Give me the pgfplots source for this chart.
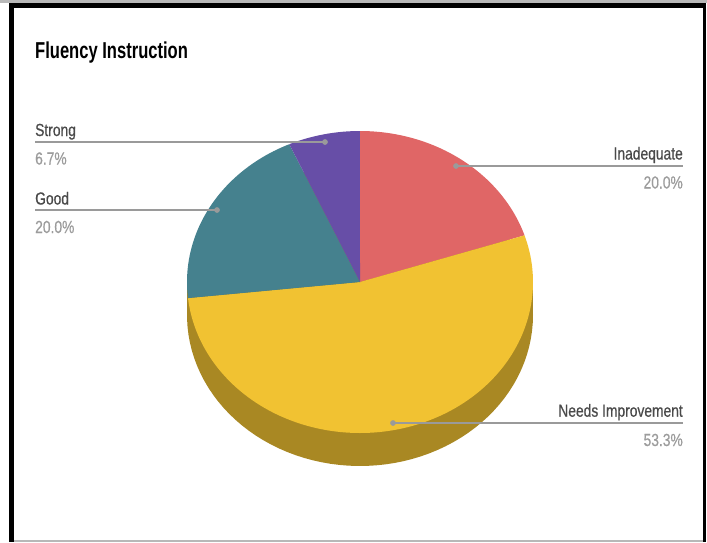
\documentclass[border=0pt]{standalone}
\usepackage{pgfplots}
\pgfplotsset{compat=1.18}
\usepackage{pgfplotstable}
\usepackage{fontspec}
\setmainfont{Liberation Sans}
\newfontfamily\labfont[FakeStretch=0.79,FakeBold=0.5]{Liberation Sans}
\newfontfamily\titlefont[FakeStretch=0.72]{Liberation Sans}

\definecolor{cInad}{HTML}{E06666}
\definecolor{cNeeds}{HTML}{F1C232}
\definecolor{cNeedsSide}{HTML}{A98823}
\definecolor{cGood}{HTML}{45818E}
\definecolor{cStrong}{HTML}{674EA7}
\definecolor{cLeader}{HTML}{9A9A9A}
\definecolor{cName}{HTML}{4A4A4A}
\definecolor{cPct}{HTML}{9C9C9C}
\definecolor{cTopStrip}{HTML}{B8B8B8}

\pgfplotstableread[col sep=comma]{
label,value
Inadequate,20.0
Needs Improvement,53.3
Good,20.0
Strong,6.7
}\piedata

\pgfplotstablegetelem{0}{value}\of\piedata \pgfmathsetmacro\vA{\pgfplotsretval}
\pgfplotstablegetelem{1}{value}\of\piedata \pgfmathsetmacro\vB{\pgfplotsretval}
\pgfplotstablegetelem{2}{value}\of\piedata \pgfmathsetmacro\vC{\pgfplotsretval}
\pgfplotstablegetelem{3}{value}\of\piedata \pgfmathsetmacro\vD{\pgfplotsretval}
\pgfmathsetmacro\total{\vA+\vB+\vC+\vD}
\pgfmathsetmacro\aO{90}
\pgfmathsetmacro\aA{\aO-(\vA/\total)*360}
\pgfmathsetmacro\aB{\aA-(\vB/\total)*360}
\pgfmathsetmacro\aC{\aB-(\vC/\total)*360}
\pgfmathsetmacro\aD{\aC-(\vD/\total)*360}

% pie geometry (image pixel coordinates, y downward)
\def\cx{360}\def\cy{282}\def\rx{173}\def\ry{151}\def\dep{33}

\begin{document}
\begin{tikzpicture}
\begin{axis}[
  width=707pt, height=542pt, scale only axis,
  xmin=0, xmax=707, ymin=0, ymax=542, y dir=reverse,
  hide axis, clip=false,
]
% background and frame
\addplot[fill=white, draw=none] coordinates {(0,0) (707,0) (707,542) (0,542)} -- cycle;
\addplot[fill=cTopStrip, draw=none] coordinates {(0,0) (707,0) (707,3.3) (0,3.3)} -- cycle;
\addplot[fill=black, draw=none] coordinates {(9,3.3) (706,3.3) (706,8.3) (9,8.3)} -- cycle;
\addplot[fill=black, draw=none] coordinates {(9,3.3) (14,3.3) (14,542) (9,542)} -- cycle;
\addplot[fill=black, draw=none] coordinates {(703,3.3) (706,3.3) (706,542) (703,542)} -- cycle;
\addplot[fill=cTopStrip, draw=none] coordinates {(14,540) (703,540) (703,542) (14,542)} -- cycle;

% 3D side of the pie
\addplot[fill=cNeedsSide, draw=none, domain=0:360, samples=120, variable=\t]
  ({\cx+\rx*cos(t)}, {\cy+\dep-\ry*sin(t)}) -- cycle;
\addplot[fill=cNeedsSide, draw=none] coordinates {(\cx-\rx,\cy) (\cx+\rx,\cy) (\cx+\rx,\cy+\dep) (\cx-\rx,\cy+\dep)} -- cycle;

% top slices
\addplot[fill=cInad, draw=none, domain=\aA:\aO, samples=50, variable=\t]
  ({\cx+\rx*cos(t)}, {\cy-\ry*sin(t)}) -- (\cx,\cy) -- cycle;
\addplot[fill=cNeeds, draw=none, domain=\aB:\aA, samples=120, variable=\t]
  ({\cx+\rx*cos(t)}, {\cy-\ry*sin(t)}) -- (\cx,\cy) -- cycle;
\addplot[fill=cGood, draw=none, domain=\aC:\aB, samples=50, variable=\t]
  ({\cx+\rx*cos(t)}, {\cy-\ry*sin(t)}) -- (\cx,\cy) -- cycle;
\addplot[fill=cStrong, draw=none, domain=\aD:\aC, samples=30, variable=\t]
  ({\cx+\rx*cos(t)}, {\cy-\ry*sin(t)}) -- (\cx,\cy) -- cycle;

% leader lines
\addplot[cLeader, line width=1.3pt] coordinates {(325,142) (35,142)};
\addplot[cLeader, line width=1.3pt] coordinates {(217,210) (35,210)};
\addplot[cLeader, line width=1.3pt] coordinates {(456,166) (683,166)};
\addplot[cLeader, line width=1.3pt] coordinates {(393,423) (683,423)};
\addplot[only marks, mark=*, mark size=2.6pt, color=cLeader] coordinates {(325,142) (217,210) (456,166) (393,423)};

% title
\node[anchor=base west, inner sep=0, font=\titlefont\bfseries\fontsize{23}{26}\selectfont, text=black] at (axis cs:35,58) {Fluency Instruction};

% labels
\node[anchor=base west, inner sep=0, font=\labfont\fontsize{17.5}{20}\selectfont, text=cName] at (axis cs:35,136) {Strong};
\node[anchor=base west, inner sep=0, font=\labfont\fontsize{17.5}{20}\selectfont, text=cPct] at (axis cs:35,164.5) {6.7\%};
\node[anchor=base west, inner sep=0, font=\labfont\fontsize{17.5}{20}\selectfont, text=cName] at (axis cs:35,204.5) {Good};
\node[anchor=base west, inner sep=0, font=\labfont\fontsize{17.5}{20}\selectfont, text=cPct] at (axis cs:35,233) {20.0\%};
\node[anchor=base east, inner sep=0, font=\labfont\fontsize{17.5}{20}\selectfont, text=cName] at (axis cs:683,159.5) {Inadequate};
\node[anchor=base east, inner sep=0, font=\labfont\fontsize{17.5}{20}\selectfont, text=cPct] at (axis cs:683,188.5) {20.0\%};
\node[anchor=base east, inner sep=0, font=\labfont\fontsize{17.5}{20}\selectfont, text=cName] at (axis cs:683,416.7) {Needs Improvement};
\node[anchor=base east, inner sep=0, font=\labfont\fontsize{17.5}{20}\selectfont, text=cPct] at (axis cs:683,446) {53.3\%};
\end{axis}
\end{tikzpicture}
\end{document}
